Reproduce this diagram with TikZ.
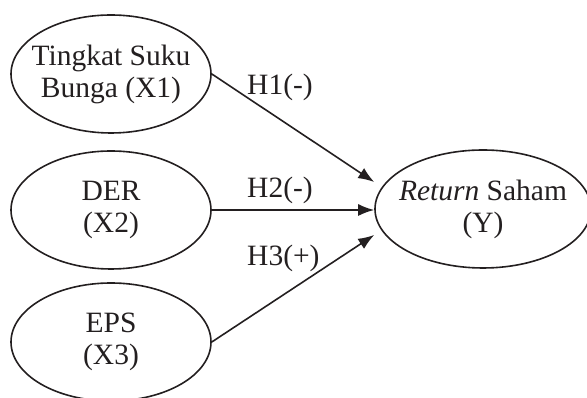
\documentclass[tikz,border=0pt]{standalone}
\usepackage{fontspec}
\setmainfont{Liberation Serif}
\usetikzlibrary{shapes.geometric,arrows.meta,calc}
\definecolor{ink}{HTML}{231F20}
\begin{document}
\begin{tikzpicture}[x=1pt,y=1pt,
  var/.style={draw=ink,ellipse,line width=1.6pt,inner xsep=-12pt,inner ysep=0pt,minimum width=200pt,minimum height=118pt,align=center,text=ink,font=\fontsize{29.5}{32}\selectfont},
  link/.style={draw=ink,line width=1.6pt,-{Latex[length=16pt,width=12pt]}},
  lab/.style={anchor=west,inner sep=0pt,text=ink,font=\fontsize{29.5}{32}\selectfont}]
\useasboundingbox (0,0) rectangle (587,398);
\node[var] (X1) at (111,324) {Tingkat Suku\\Bunga (X1)};
\node[var] (X2) at (111,188) {DER\\(X2)};
\node[var] (X3) at (111,56) {EPS\\(X3)};
\node[var,minimum width=216pt] (Y) at (483,189) {\textit{Return} Saham\\(Y)};
\coordinate (t1) at ($(Y.west)+(0,27)$);
\coordinate (t2) at ($(Y.west)+(0,-1)$);
\coordinate (t3) at ($(Y.west)+(0,-26)$);
\draw[link] (X1.east) -- (t1);
\draw[link] (X2.east) -- (t2);
\draw[link] (X3.east) -- (t3);
\node[lab] (h1) at (247,311) {H1(-)};
\node[lab] (h2) at (247,208) {H2(-)};
\node[lab] (h3) at (247,140) {H3(+)};
\end{tikzpicture}
\end{document}
